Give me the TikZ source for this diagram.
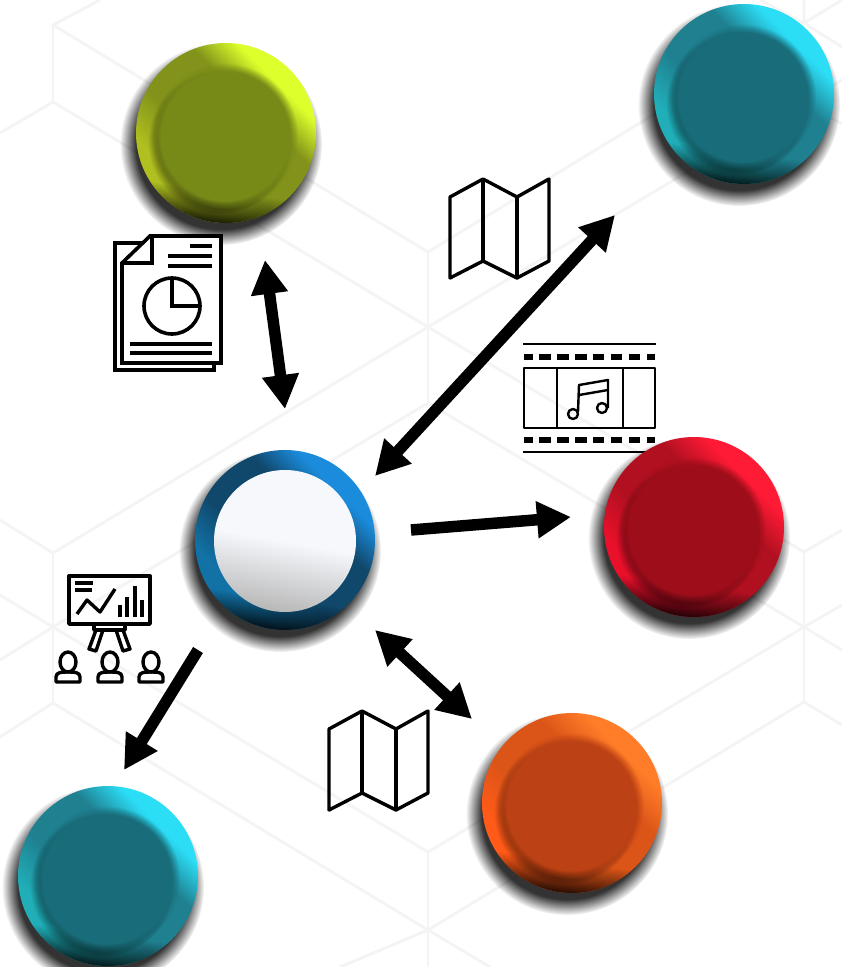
\documentclass[tikz,border=0pt]{standalone}
\usetikzlibrary{arrows.meta,fadings}
\definecolor{gridgray}{HTML}{F4F4F4}
\definecolor{limehi}{HTML}{DDFF2B}
\definecolor{limemid}{HTML}{82921A}
\definecolor{limelow}{HTML}{B0C020}
\definecolor{limeflat}{HTML}{778A18}
\definecolor{tealhi}{HTML}{2BDDF5}
\definecolor{tealmid}{HTML}{1F8090}
\definecolor{teallow}{HTML}{20AEB8}
\definecolor{tealflat}{HTML}{196D7A}
\definecolor{redhi}{HTML}{FF1A35}
\definecolor{redmid}{HTML}{B01020}
\definecolor{redlow}{HTML}{E8102A}
\definecolor{redflat}{HTML}{9E0E1A}
\definecolor{orangehi}{HTML}{FF7C28}
\definecolor{orangemid}{HTML}{DC5518}
\definecolor{orangelow}{HTML}{FF5A18}
\definecolor{orangeflat}{HTML}{BC4114}
\definecolor{bluehi}{HTML}{1B8CDC}
\definecolor{bluemid}{HTML}{10486C}
\definecolor{bluelow}{HTML}{1272A6}
\definecolor{pearl}{HTML}{F6F8FC}
\definecolor{pearllow}{HTML}{B8B8B8}
\colorlet{rimhi}{limehi}
\colorlet{rimmid}{limemid}
\colorlet{rimlow}{limelow}
\pgfdeclareverticalshading[rimhi,rimmid,rimlow]{rimaxis}{100bp}{color(0bp)=(rimlow); color(31bp)=(rimlow); color(43bp)=(rimmid); color(60bp)=(rimmid); color(70bp)=(rimhi); color(100bp)=(rimhi)}
\pgfdeclareradialshading{softdiscshade}{\pgfpointorigin}{color(0bp)=(pgftransparent!0); color(21bp)=(pgftransparent!0); color(25bp)=(pgftransparent!100); color(50bp)=(pgftransparent!100)}
\pgfdeclarefading{softdisc}{\pgfuseshading{softdiscshade}}
\pgfdeclareradialshading{softcapshade}{\pgfpointorigin}{color(0bp)=(pgftransparent!0); color(22bp)=(pgftransparent!0); color(25bp)=(pgftransparent!100); color(50bp)=(pgftransparent!100)}
\pgfdeclarefading{softcap}{\pgfuseshading{softcapshade}}
\pgfdeclareverticalshading{lowdarkshade}{100bp}{color(0bp)=(pgftransparent!0); color(25bp)=(pgftransparent!5); color(34bp)=(pgftransparent!100); color(100bp)=(pgftransparent!100)}
\pgfdeclarefading{lowdark}{\pgfuseshading{lowdarkshade}}
\tikzset{
  gridline/.style={gridgray,line width=2.8pt},
  dropshade/.style={black,opacity=.8,path fading=softdisc},
  rimshade/.style={shading=rimaxis,shading angle=-45},
  rimdark/.style={black,opacity=.9,path fading=lowdark,fading angle=-8},
  capdark/.style={black,opacity=.5,path fading=softdisc},
  capflat/.style={path fading=softcap},
  beadspot/.style={circle,minimum size=180pt,inner sep=0pt},
  fatarrow/.style={line width=11.5pt,{Triangle[length=34pt,width=35pt]}-{Triangle[length=34pt,width=35pt]}},
  onearrow/.style={line width=11.5pt,-{Triangle[length=34pt,width=35pt]}},
  iconline/.style={line width=3.4pt,line join=round},
  sheetline/.style={line width=3.6pt,line join=miter},
  thinicon/.style={line width=2.4pt,line join=round},
}
\begin{document}
\begin{tikzpicture}[x=1pt,y=-1pt]
\useasboundingbox (0,0) rectangle (842,967);
\fill[white] (0,0) rectangle (842,967);
% hexagon lines
\draw[gridline] (100,0) -- (53,25) -- (428,252) -- (804,23) -- (842,0);
\draw[gridline] (0,133) -- (53,102) -- (428,327) -- (804,102) -- (842,80);
\draw[gridline] (53,25) -- (53,102);
\draw[gridline] (428,252) -- (428,403);
\draw[gridline] (0,520) -- (53,553) -- (428,327);
\draw[gridline] (428,327) -- (804,552) -- (842,530);
\draw[gridline] (0,660) -- (53,627) -- (428,403) -- (804,627) -- (842,605);
\draw[gridline] (53,553) -- (53,703);
\draw[gridline] (0,595) -- (53,627) -- (428,852) -- (804,627) -- (842,650);
\draw[gridline] (0,737) -- (53,703) -- (428,930) -- (804,702) -- (842,725);
\draw[gridline] (804,552) -- (804,702);
\draw[gridline] (428,852) -- (428,967);
\draw[gridline] (340,967) -- (428,930) -- (490,967);
\draw[gridline] (760,0) -- (804,23) -- (804,0);
\draw[gridline] (804,23) -- (842,47);
\draw[gridline] (804,102) -- (842,124);

% film with notes
\draw[thinicon] (523,344) -- (656,344);
\draw[thinicon] (523,452) -- (656,452);
\foreach \dashx/\dashw in {524/9,539/12,557/12,575/12,593/11,611/11,629/11,647/8} {
  \fill (\dashx,354) rectangle ++(\dashw,6);
  \fill (\dashx,437) rectangle ++(\dashw,6);
}
\draw[thinicon] (524,368) rectangle (655,428);
\draw[thinicon] (557,368) -- (557,428);
\draw[thinicon] (623,368) -- (623,428);
\draw[thinicon] (573,414) circle (5);
\draw[thinicon] (602,408) circle (5);
\draw[thinicon] (578,412) -- (579,385) -- (608,380) -- (608,408);
\draw[thinicon] (579,395) -- (608,390);

% beads
\node[beadspot] (olive) at (226,133) {};
\node[beadspot] (tealtop) at (744,94) {};
\node[beadspot] (crimson) at (694,527) {};
\node[beadspot] (amber) at (572,803) {};
\node[beadspot] (tealbase) at (108,876) {};
\node[beadspot] (hub) at (285,540) {};

\colorlet{rimhi}{limehi}\colorlet{rimmid}{limemid}\colorlet{rimlow}{limelow}
\fill[dropshade][shift={(226,133)}] (-5,11) circle (101);
\shade[rimshade][shift={(226,133)}] (0,0) circle (90);
\fill[rimdark][shift={(226,133)}] (0,0) circle (90);
\fill[capdark][shift={(226,133)}] (-6,9) circle (72);
\fill[limeflat,capflat][shift={(226,133)}] (-1,3) circle (73);

\colorlet{rimhi}{tealhi}\colorlet{rimmid}{tealmid}\colorlet{rimlow}{teallow}
\fill[dropshade][shift={(744,94)}] (-5,11) circle (101);
\shade[rimshade][shift={(744,94)}] (0,0) circle (90);
\fill[rimdark][shift={(744,94)}] (0,0) circle (90);
\fill[capdark][shift={(744,94)}] (-6,9) circle (72);
\fill[tealflat,capflat][shift={(744,94)}] (-1,3) circle (73);

\colorlet{rimhi}{redhi}\colorlet{rimmid}{redmid}\colorlet{rimlow}{redlow}
\fill[dropshade][shift={(694,527)}] (-5,11) circle (101);
\shade[rimshade][shift={(694,527)}] (0,0) circle (90);
\fill[rimdark][shift={(694,527)}] (0,0) circle (90);
\fill[capdark][shift={(694,527)}] (-6,9) circle (72);
\fill[redflat,capflat][shift={(694,527)}] (-1,3) circle (73);

\colorlet{rimhi}{orangehi}\colorlet{rimmid}{orangemid}\colorlet{rimlow}{orangelow}
\fill[dropshade][shift={(572,803)}] (-5,11) circle (101);
\shade[rimshade][shift={(572,803)}] (0,0) circle (90);
\fill[rimdark][shift={(572,803)}] (0,0) circle (90);
\fill[capdark][shift={(572,803)}] (-6,9) circle (72);
\fill[orangeflat,capflat][shift={(572,803)}] (-1,3) circle (73);

\colorlet{rimhi}{tealhi}\colorlet{rimmid}{tealmid}\colorlet{rimlow}{teallow}
\fill[dropshade][shift={(108,876)}] (-5,11) circle (101);
\shade[rimshade][shift={(108,876)}] (0,0) circle (90);
\fill[rimdark][shift={(108,876)}] (0,0) circle (90);
\fill[capdark][shift={(108,876)}] (-6,9) circle (72);
\fill[tealflat,capflat][shift={(108,876)}] (-1,3) circle (73);

\colorlet{rimhi}{bluehi}\colorlet{rimmid}{bluemid}\colorlet{rimlow}{bluelow}
\fill[dropshade][shift={(285,540)}] (-5,11) circle (101);
\shade[rimshade][shift={(285,540)}] (0,0) circle (90);
\fill[rimdark][shift={(285,540)}] (0,0) circle (90);
\shade[top color=pearl,bottom color=pearllow,middle color=pearl,shading angle=-10][shift={(285,541)}] (0,0) circle (71);

% connectors
\coordinate (oliveend) at (265,260);
\coordinate (hubtop) at (285,409);
\coordinate (tealend) at (615,215);
\coordinate (hubright) at (375,476);
\coordinate (hubout) at (411,530);
\coordinate (crimsonend) at (571,517);
\coordinate (hublow) at (375,630);
\coordinate (amberend) at (472,719);
\coordinate (hubleft) at (198,650);
\coordinate (baseend) at (124,770);
\draw[fatarrow] (oliveend) -- (hubtop);
\draw[fatarrow] (tealend) -- (hubright);
\draw[onearrow] (hubout) -- (crimsonend);
\draw[fatarrow] (hublow) -- (amberend);
\draw[onearrow] (hubleft) -- (baseend);

% document
\draw[sheetline,fill=white] (143,243) -- (115,243) -- (115,370) -- (214,370) -- (214,363);
\draw[sheetline,fill=white] (122,263) -- (150,236) -- (221,236) -- (221,363) -- (122,363) -- cycle;
\draw[sheetline] (122,263) -- (152,263) -- (152,236);
\draw[sheetline] (190,246) -- (212,246);
\draw[sheetline] (168,256) -- (212,256);
\draw[sheetline] (168,266) -- (212,266);
\draw[sheetline] (172,306) circle (28);
\draw[sheetline] (172,280) -- (172,306) -- (199,306);
\draw[sheetline] (130,344) -- (212,344);
\draw[sheetline] (130,353) -- (212,353);

% folded maps
\draw[iconline][shift={(450,179)}] (0,18) -- (33,0) -- (67,18) -- (99,0) -- (99,82) -- (67,99) -- (33,82) -- (0,99) -- cycle;
\draw[iconline][shift={(450,179)}] (33,0) -- (33,82);
\draw[iconline][shift={(450,179)}] (67,18) -- (67,99);
\draw[iconline][shift={(329,711)}] (0,18) -- (33,0) -- (67,18) -- (99,0) -- (99,82) -- (67,99) -- (33,82) -- (0,99) -- cycle;
\draw[iconline][shift={(329,711)}] (33,0) -- (33,82);
\draw[iconline][shift={(329,711)}] (67,18) -- (67,99);

% presenter
\draw[iconline] (69,576) rectangle (150,624);
\draw[iconline] (75,583) -- (93,583);
\draw[iconline] (75,590) -- (92,590);
\draw[iconline] (77,614) -- (87,600) -- (100,612) -- (115,589);
\draw[iconline] (120,617) -- (120,605);
\draw[iconline] (127,617) -- (127,597);
\draw[iconline] (135,617) -- (135,586);
\draw[iconline] (142,617) -- (142,600);
\draw[iconline] (94,624) -- (94,630) -- (125,630) -- (125,624);
\draw[iconline] (96,630) -- (89,649) -- (96,651) -- (103,630);
\draw[iconline] (116,630) -- (123,651) -- (130,649) -- (123,630);
\foreach \seatx in {68,110,151} {
  \draw[iconline] (\seatx,662) ellipse (8 and 10);
  \draw[iconline] (\seatx-12,682) -- (\seatx-12,677) .. controls (\seatx-12,672) and (\seatx-6,672) .. (\seatx,672) .. controls (\seatx+6,672) and (\seatx+12,672) .. (\seatx+12,677) -- (\seatx+12,682) -- cycle;
}
\end{tikzpicture}
\end{document}
